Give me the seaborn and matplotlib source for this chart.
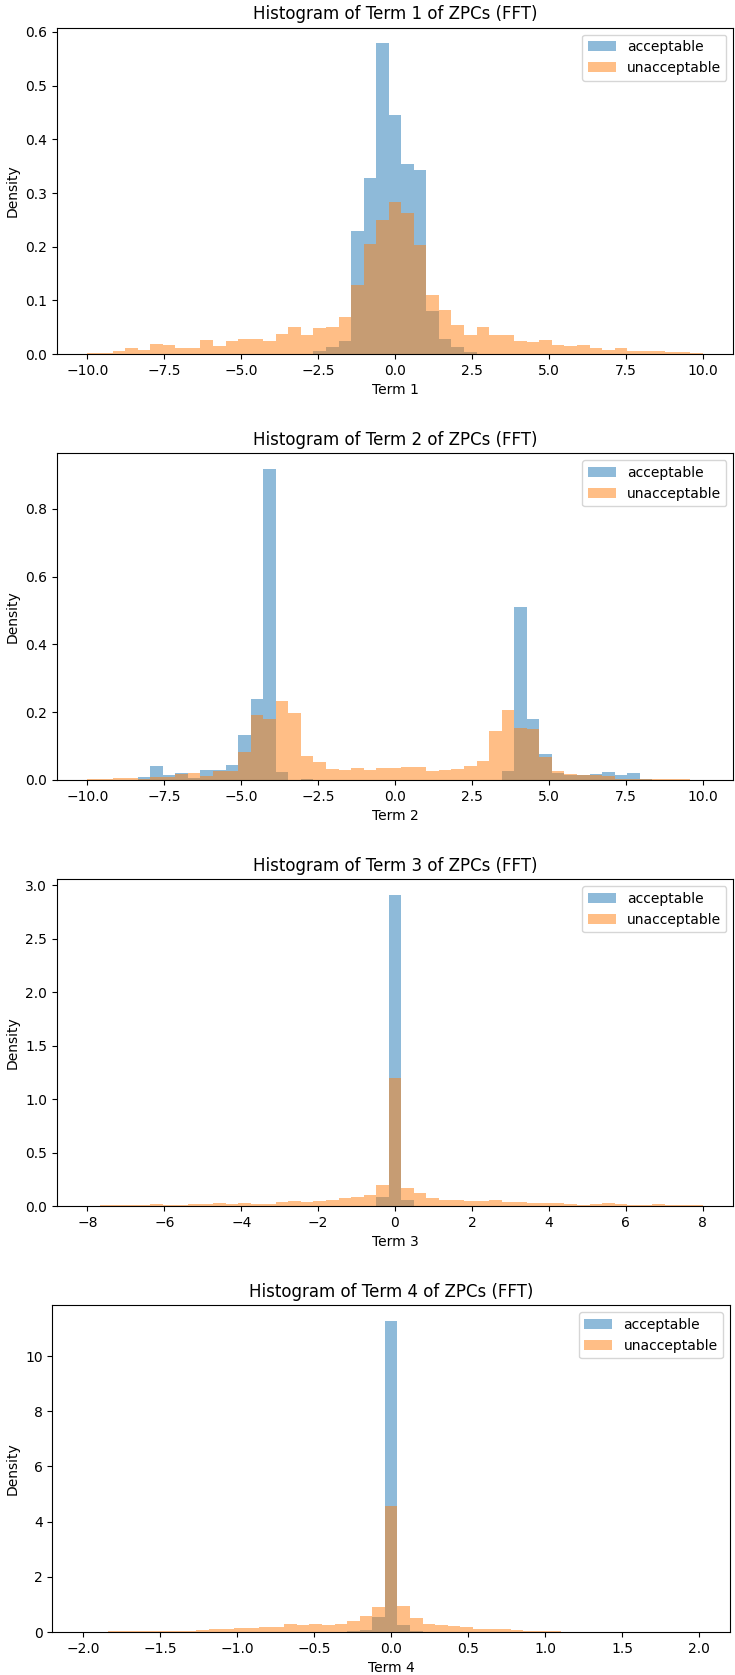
import numpy as np
import pandas as pd
import seaborn as sns
import matplotlib
matplotlib.use("Agg")
import matplotlib.pyplot as plt

# 49 bins per term (edges = linspace(-lim, lim, 50)), density values
term_limits = [10, 10, 8, 2]
labels = ["acceptable", "unacceptable"]

term1_acc = [0]*18 + [0.006, 0.014, 0.025, 0.2285, 0.329, 0.579, 0.446, 0.3536, 0.3437,
                      0.0805, 0.028, 0.0136, 0.004] + [0]*18
term1_unacc = [0.002, 0.003, 0.0056, 0.011, 0.0074, 0.0186, 0.0167, 0.011, 0.011, 0.0266,
               0.016, 0.024, 0.028, 0.029, 0.0254, 0.038, 0.051, 0.035, 0.048, 0.050,
               0.069, 0.128, 0.205, 0.2495, 0.284, 0.2625, 0.2025, 0.110, 0.0817, 0.054,
               0.036, 0.050, 0.036, 0.036, 0.024, 0.0223, 0.026, 0.0167, 0.0155, 0.0167,
               0.011, 0.0087, 0.0118, 0.0062, 0.0062, 0.006, 0.005, 0.0037, 0.002]

term2_acc = [0, 0, 0, 0, 0.0098, 0.040, 0.0137, 0.0196, 0.006, 0.030,
             0.0285, 0.044, 0.1325, 0.2375, 0.9176, 0.0245, 0, 0.004, 0, 0,
             0, 0, 0, 0, 0, 0, 0, 0, 0, 0,
             0, 0, 0, 0.0275, 0.510, 0.1786, 0.0765, 0.0196, 0.0157, 0.0137,
             0.0167, 0.0245, 0.0157, 0.0206, 0.003, 0, 0, 0, 0]
term2_unacc = [0.002, 0.002, 0.006, 0.006, 0.004, 0.009, 0.009, 0.019, 0.0206, 0.0128,
               0.0255, 0.0255, 0.0815, 0.1923, 0.1796, 0.2326, 0.198, 0.0707, 0.054, 0.0324,
               0.0304, 0.0363, 0.0285, 0.0343, 0.0343, 0.0373, 0.0373, 0.0265, 0.0294, 0.0324,
               0.042, 0.056, 0.1443, 0.206, 0.152, 0.149, 0.0667, 0.0265, 0.0167, 0.0137,
               0.0157, 0.0118, 0.004, 0.004, 0.003, 0.002, 0.002, 0.004, 0.001]

term3_acc = [0]*23 + [0.087, 2.91, 0.056] + [0]*23
term3_unacc = [0, 0.006, 0.006, 0.006, 0.006, 0.0155, 0.006, 0.0125, 0.022, 0.022,
               0.031, 0.022, 0.031, 0.022, 0.022, 0.037, 0.05, 0.034, 0.0466, 0.059,
               0.0746, 0.087, 0.106, 0.196, 1.194, 0.168, 0.118, 0.0715, 0.056, 0.056,
               0.0466, 0.05, 0.056, 0.034, 0.04, 0.028, 0.028, 0.028, 0.0187, 0.0125,
               0.0187, 0.028, 0.0187, 0.0125, 0.006, 0.022, 0.0125, 0.006, 0.006]

term4_acc = [0]*20 + [0.012, 0.036, 0.072, 0.54, 11.28, 0.25, 0.048] + [0]*22
term4_unacc = [0, 0, 0.048, 0.048, 0.024, 0.036, 0.036, 0.048, 0.048, 0.084,
               0.096, 0.096, 0.13, 0.145, 0.17, 0.18, 0.29, 0.24, 0.29, 0.265,
               0.29, 0.41, 0.566, 0.89, 4.55, 0.93, 0.52, 0.277, 0.25, 0.217,
               0.17, 0.12, 0.096, 0.096, 0.072, 0.036, 0.048, 0.048, 0,
               0, 0, 0, 0, 0, 0, 0, 0, 0, 0]

acc_all = [term1_acc, term2_acc, term3_acc, term4_acc]
unacc_all = [term1_unacc, term2_unacc, term3_unacc, term4_unacc]

# axes boxes in pixels (left, top, right, bottom) of a 735x1675 canvas
W, H = 735, 1675
boxes = [(56.7, 27.7, 733.3, 354.2),
         (56.7, 453.3, 733.3, 780.0),
         (56.7, 879.3, 733.3, 1206.0),
         (52.3, 1305.3, 730.0, 1632.0)]

fig = plt.figure(figsize=(7.35, 16.75), dpi=100)

for i in range(4):
    l, t, r, b = boxes[i]
    ax = fig.add_axes([l / W, 1 - b / H, (r - l) / W, (b - t) / H])
    lim = term_limits[i]
    edges = np.linspace(-lim, lim, 50)
    centers = (edges[:-1] + edges[1:]) / 2
    for vals, col, lab in zip([acc_all[i], unacc_all[i]], ["C0", "C1"], labels):
        df = pd.DataFrame({"center": centers, "density": vals})
        sns.histplot(data=df, x="center", weights="density", bins=list(edges),
                     stat="count", color=col, alpha=0.5, edgecolor="none",
                     linewidth=0, label=lab, ax=ax)
    top = max(max(acc_all[i]), max(unacc_all[i]))
    ax.set_xlim(-lim * 1.1, lim * 1.1)
    ax.set_ylim(0, top * 1.05)
    ax.set_title(f"Histogram of Term {i+1} of ZPCs (FFT)")
    ax.set_xlabel(f"Term {i+1}")
    ax.set_ylabel("Density")
    ax.legend(loc="upper right")

fig.savefig("out.png", dpi=100)
